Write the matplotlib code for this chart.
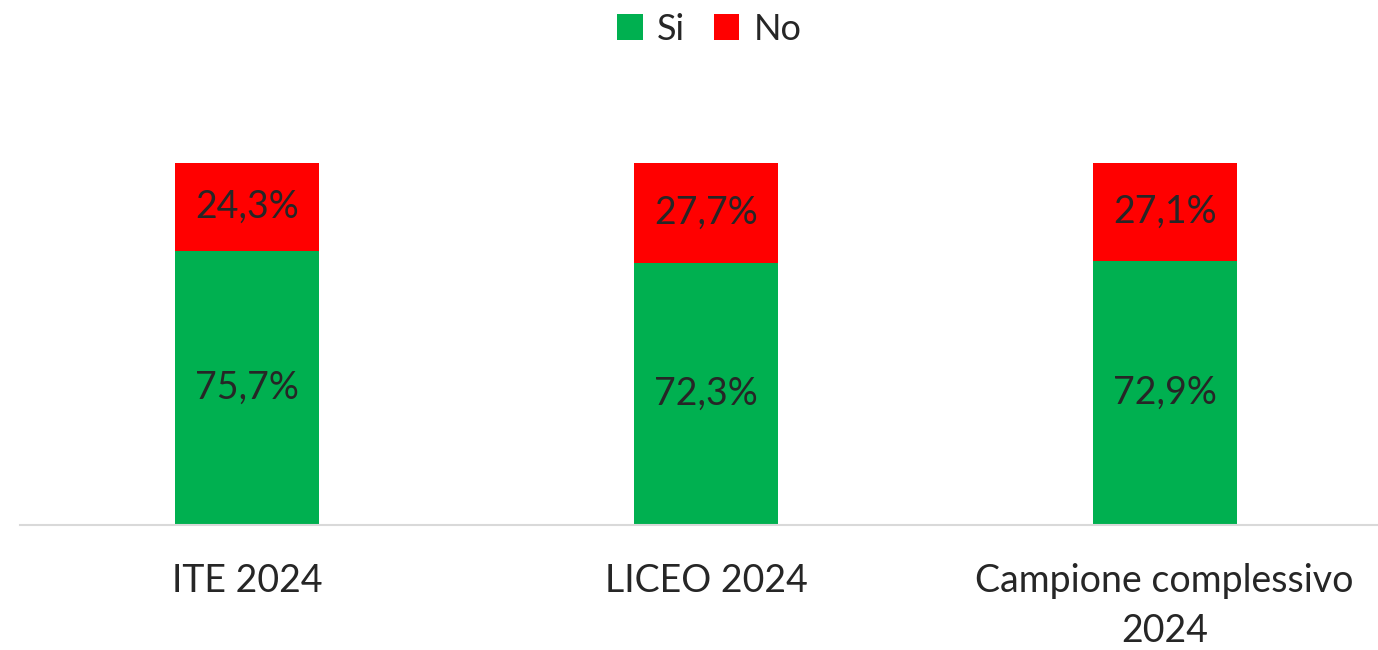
import matplotlib.pyplot as plt
import numpy as np

# data
categories = ['ITE 2024', 'LICEO 2024', 'Campione complessivo\n2024']
si_values = [75.7, 72.3, 72.9]
no_values = [24.3, 27.7, 27.1]

plt.rcParams['font.family'] = ['Lato', 'DejaVu Sans']
text_col = '#262626'

fig = plt.figure(figsize=(13.78, 6.5), dpi=100)
ax = fig.add_axes([0.0145, 0.1923, 0.9855, 0.5569])

x = np.arange(len(categories))
w = 0.314
b1 = ax.bar(x, si_values, w, color='#00B050', label='Si')
b2 = ax.bar(x, no_values, w, bottom=si_values, color='#FF0000', label='No')

# value labels in the middle of each segment
for xi, s, n in zip(x, si_values, no_values):
    ax.text(xi, s / 2, f'{s:.1f}%'.replace('.', ','), ha='center', va='center',
            fontsize=27, color=text_col)
    ax.text(xi, s + n / 2, f'{n:.1f}%'.replace('.', ','), ha='center', va='center',
            fontsize=27, color=text_col)

ax.set_xlim(-0.4956, 2.465)
ax.set_ylim(0, 100)
ax.set_xticks(x)
ax.set_xticklabels(categories, fontsize=27, color=text_col, linespacing=1.5)
ax.tick_params(axis='x', length=0, pad=27)
ax.set_yticks([])
for side in ['top', 'right', 'left']:
    ax.spines[side].set_visible(False)
ax.spines['bottom'].set_color('#D9D9D9')
ax.spines['bottom'].set_linewidth(1.5)

fig.legend(handles=[b1, b2], labels=['Si', 'No'], loc='center', bbox_to_anchor=(0.515, 0.955),
           ncol=2, frameon=False, fontsize=26, handlelength=0.7, handleheight=0.7,
           handletextpad=0.4, columnspacing=0.8, labelcolor=text_col)

fig.savefig('out.png', dpi=100)
